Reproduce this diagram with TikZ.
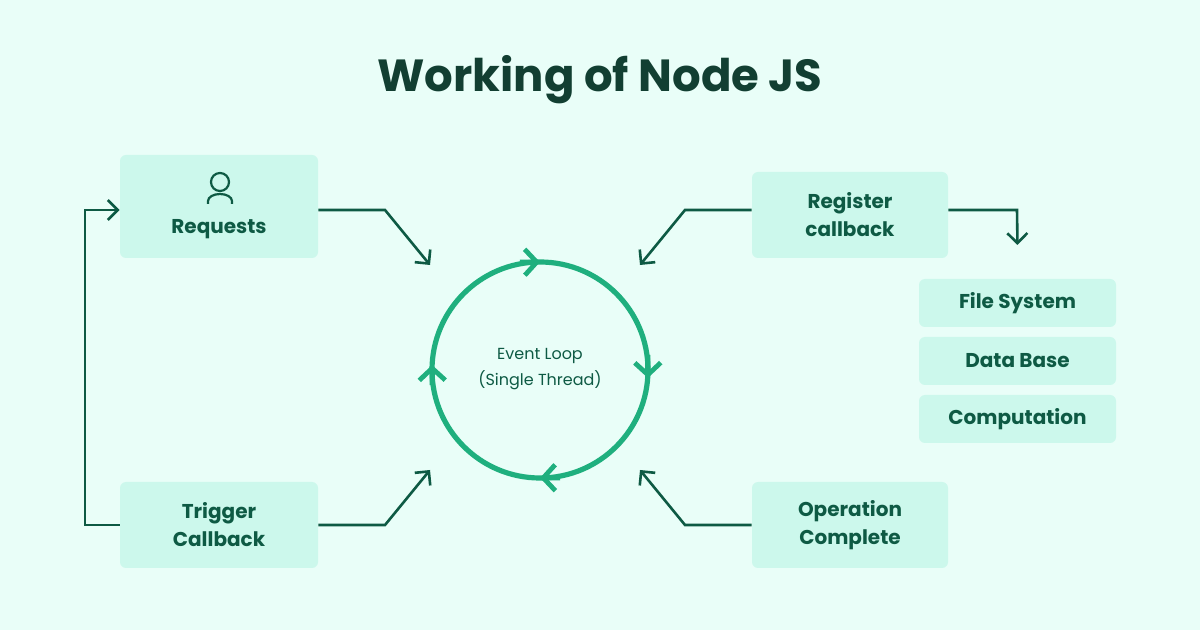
\documentclass[tikz,border=0pt]{standalone}
\usepackage{fontspec}
\setmainfont{Poppins}
\usetikzlibrary{arrows.meta}
\definecolor{bg}{HTML}{E9FEF8}
\definecolor{boxc}{HTML}{CCF8EC}
\definecolor{ink}{HTML}{0E5A44}
\definecolor{ttl}{HTML}{123F32}
\definecolor{loopc}{HTML}{1FAF7E}
\begin{document}
\begin{tikzpicture}[x=0.5pt,y=-0.5pt,
  box/.style={fill=boxc,draw=none,rounded corners=3pt,align=center,text=ink,font=\fontsize{10}{14}\selectfont\bfseries,inner sep=0pt},
  conn/.style={draw=ink,line width=1.3pt,-{Straight Barb[length=5pt,width=10pt,line width=1.3pt]}},
  lp/.style={draw=loopc,line width=2.6pt,-{Straight Barb[length=6pt,width=13pt,line width=2.4pt]}}]
\fill[bg] (0,0) rectangle (1200,630);
\useasboundingbox (0,0) rectangle (1200,630);
\node[text=ttl,font=\fontsize{22.5}{26}\selectfont\bfseries] (title) at (600,80) {Working of Node JS};
\node[box,minimum width=99pt,minimum height=51.5pt] (req) at (219,206.5) {};
\node[text=ink,font=\fontsize{10}{14}\selectfont\bfseries] (reqt) at (219,229) {Requests};
\draw[ink,line width=1.1pt] (220,182) circle (4.5pt);
\draw[ink,line width=1.1pt] (208,204) -- (208,201) arc (180:360:12 and 7) -- (232,204);
\node[box,minimum width=98pt,minimum height=43pt] (reg) at (850,215) {Register\\callback};
\node[box,minimum width=99pt,minimum height=43pt] (trig) at (219,525) {Trigger\\Callback};
\node[box,minimum width=98pt,minimum height=43pt] (op) at (850,525) {Operation\\Complete};
\node[box,minimum width=98.5pt,minimum height=24pt] (fs) at (1017.5,303) {File System};
\node[box,minimum width=98.5pt,minimum height=24pt] (db) at (1017.5,361) {Data Base};
\node[box,minimum width=98.5pt,minimum height=24pt] (cp) at (1017.5,419) {Computation};
\draw[draw=loopc,line width=2.6pt] (540,370) circle (54pt);
\node[text=ink,align=center,font=\fontsize{8}{13}\selectfont] (ev) at (540,369) {Event Loop\\(Single Thread)};
\draw[lp] (520,262.3) -- (540,262.1);
\draw[lp] (647.7,355) -- (647.9,378);
\draw[lp] (560,477.7) -- (540,477.9);
\draw[lp] (432.3,385) -- (432.1,365);
\coordinate (a1) at (430,265); \coordinate (a2) at (640,265);
\coordinate (a3) at (430,470); \coordinate (a4) at (640,470);
\draw[conn] (req.east|-0,210) -- (385,210) -- (a1);
\draw[conn] (reg.west|-0,210) -- (685,210) -- (a2);
\draw[conn] (trig.east) -- (385,525) -- (a3);
\draw[conn] (op.west) -- (685,525) -- (a4);
\draw[conn] (reg.east|-0,210) -- (1017,210) -- (fs.north|-0,245);
\draw[conn] (trig.west) -- (85,525) -- (85,210) -- (req.west|-0,210);
\end{tikzpicture}
\end{document}
